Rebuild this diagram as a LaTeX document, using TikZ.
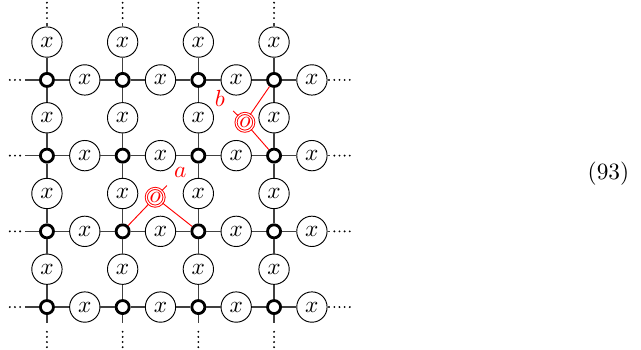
\documentclass[tikz,border=0pt]{standalone}
\usepackage{tikz}
\usetikzlibrary{calc}

\tikzset{
    site/.style={circle,draw,line width=1.2pt,fill=white,inner sep=0pt,minimum size=5.6pt},
    xnode/.style={circle,draw,fill=white,inner sep=0pt,minimum size=13pt},
    onode/.style={circle,draw=red,double,double distance=0.5pt,text=red,inner sep=0pt,minimum size=7.6pt},
    bond/.style={draw=black!75,line width=0.5pt},
    dotline/.style={line width=0.9pt,line cap=round,dash pattern=on 0pt off 2.2pt},
}

\begin{document}
\begin{tikzpicture}[x=1.14cm,y=1.14cm]
    \useasboundingbox (-0.62,-0.555) rectangle (7.847,4.056);
    \foreach \i in {0,...,3}{
        \foreach \j in {0,...,3}{
            \node[site] (v-\i-\j) at (\i,\j) {};
            \node[xnode] (h-\i-\j) at (\i+0.5,\j) {$x$};
            \node[xnode] (u-\i-\j) at (\i,\j+0.5) {$x$};
        }
    }
    \foreach \k in {0,...,3}{
        \coordinate (w-\k) at (-0.29,\k);
        \coordinate (ww-\k) at (-0.49,\k);
        \coordinate (e-\k) at (3.74,\k);
        \coordinate (ee-\k) at (4.0,\k);
        \coordinate (s-\k) at (\k,-0.21);
        \coordinate (ss-\k) at (\k,-0.53);
        \coordinate (n-\k) at (\k,3.75);
        \coordinate (nn-\k) at (\k,4.02);
        \draw[bond] (w-\k) -- (v-0-\k) -- (h-0-\k) -- (v-1-\k) -- (h-1-\k) -- (v-2-\k) -- (h-2-\k) -- (v-3-\k) -- (h-3-\k) -- (e-\k);
        \draw[bond] (s-\k) -- (v-\k-0) -- (u-\k-0) -- (v-\k-1) -- (u-\k-1) -- (v-\k-2) -- (u-\k-2) -- (v-\k-3) -- (u-\k-3) -- (n-\k);
        \draw[dotline] (ww-\k) -- ($(ww-\k)!0.8!(w-\k)$);
        \draw[dotline] (ee-\k) -- ($(ee-\k)!0.8!(e-\k)$);
        \draw[dotline] (ss-\k) -- ($(ss-\k)!0.7!(s-\k)$);
        \draw[dotline] (nn-\k) -- ($(nn-\k)!0.85!(n-\k)$);
    }
    % the two o's
    \node[onode] (oa) at (1.43,1.45) {$o$};
    \node[text=red] (la) at (1.76,1.78) {$a$};
    \draw[red] (v-1-1) -- (oa) -- (v-2-1);
    \draw[red] (oa) -- (la);
    \node[onode] (ob) at (2.615,2.44) {$o$};
    \node[text=red] (lb) at (2.285,2.76) {$b$};
    \draw[red] (v-3-3) -- (ob) -- (v-3-2);
    \draw[red] (ob) -- (lb);
    \node[anchor=base east] (eqno) at (7.8,1.68) {(93)};
\end{tikzpicture}
\end{document}
